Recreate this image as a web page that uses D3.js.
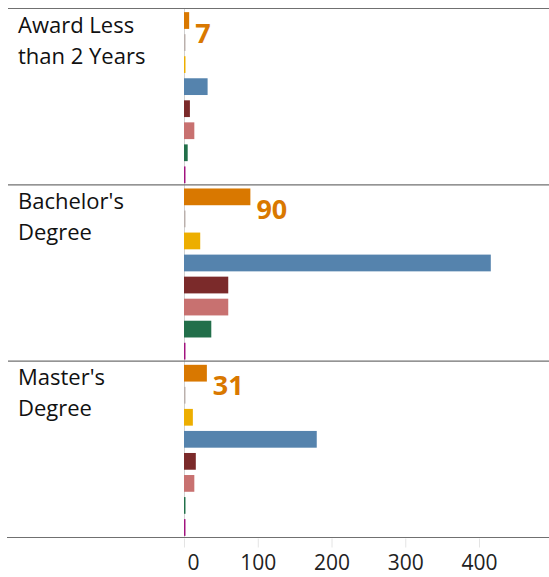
<!DOCTYPE html>
<html>
<head>
<meta charset="utf-8">
<script src="https://cdn.jsdelivr.net/npm/d3@7"></script>
<style>
  body { margin: 0; background: #fff; }
  text { font-family: "Open Sans", sans-serif; }
</style>
</head>
<body>
<div id="figure"></div>
<script>
const width = 549,
      height = 577;

// Groups (rows) and their wrapped labels.
const groups = ["Award Less than 2 Years", "Bachelor's Degree", "Master's Degree"];
const groupLines = [["Award Less", "than 2 Years"], ["Bachelor's", "Degree"], ["Master's", "Degree"]];

// Series drawn inside each group, top to bottom.
const series = ["orange", "gray", "yellow", "blue", "darkred", "pink", "green", "magenta"];
const seriesColors = ["#d97800", "#bab0ac", "#edae00", "#5583ad", "#7b2a2a", "#c87170", "#226f4a", "#a1137e"];

// Values per group, in series order.
const awardLess = [7, 2, 2, 32, 8, 14, 5, 2];
const bachelors = [90, 2, 22, 416, 60, 60, 37, 2];
const masters = [31, 2, 12, 180, 16, 14, 2, 2];
const values = [awardLess, bachelors, masters];

const xTicks = [0, 100, 200, 300, 400];

const svg = d3.select("#figure").append("svg")
    .attr("width", width)
    .attr("height", height);

// Scales.
const x = d3.scaleLinear()
    .domain([0, 400])
    .range([184, 479]);

const yGroup = d3.scaleBand()
    .domain(groups)
    .range([8.5, 537.5]);

const yBar = d3.scaleBand()
    .domain(series)
    .range([1, yGroup.bandwidth() + 1])
    .paddingInner(0.24)
    .paddingOuter(0.12);

const color = d3.scaleOrdinal(series, seriesColors);

// Zero line.
svg.append("line")
    .attr("x1", x(0) + 0.5)
    .attr("x2", x(0) + 0.5)
    .attr("y1", yGroup.range()[0])
    .attr("y2", yGroup.range()[1])
    .attr("stroke", "#d0d0d0");

// One row per group.
const row = svg.append("g")
    .selectAll("g")
    .data(groups)
    .join("g")
    .attr("transform", d => `translate(0,${yGroup(d)})`);

row.append("line")
    .attr("x1", 8)
    .attr("x2", width)
    .attr("y1", 0)
    .attr("y2", 0)
    .attr("stroke", "#707070")
    .attr("stroke-width", 1.2);

row.append("text")
    .attr("x", 18)
    .attr("font-size", 22)
    .attr("fill", "#111")
    .selectAll("tspan")
    .data((d, i) => groupLines[i])
    .join("tspan")
    .attr("x", 18)
    .attr("y", (d, i) => 24 + i * 31)
    .text(d => d);

row.selectAll("rect")
    .data((d, i) => values[i].map((v, j) => ({key: series[j], value: v})))
    .join("rect")
    .attr("x", x(0))
    .attr("y", d => yBar(d.key))
    .attr("width", d => x(d.value) - x(0))
    .attr("height", yBar.bandwidth())
    .attr("fill", d => color(d.key));

// Value label only for the first series.
row.append("text")
    .attr("x", (d, i) => x(values[i][0]) + 6)
    .attr("y", yBar(series[0]) + yBar.bandwidth() / 2 + 22)
    .attr("font-size", 27)
    .attr("font-weight", "bold")
    .attr("fill", "#d97800")
    .text((d, i) => values[i][0]);

// Bottom axis.
const axisY = yGroup.range()[1];
svg.append("line")
    .attr("x1", 7)
    .attr("x2", width)
    .attr("y1", axisY)
    .attr("y2", axisY)
    .attr("stroke", "#707070")
    .attr("stroke-width", 1.2);

svg.append("g")
    .attr("transform", `translate(0,${axisY + 1})`)
    .call(d3.axisBottom(x).tickValues(xTicks).tickSize(9).tickPadding(8))
    .call(g => g.select(".domain").remove())
    .call(g => g.selectAll(".tick line").attr("stroke", "#e4e4e4"))
    .call(g => g.selectAll(".tick text")
        .attr("font-family", "Open Sans, sans-serif")
        .attr("font-size", 21)
        .attr("fill", "#222")
        .attr("dx", d => d === 0 ? 9 : 0));
</script>
</body>
</html>
